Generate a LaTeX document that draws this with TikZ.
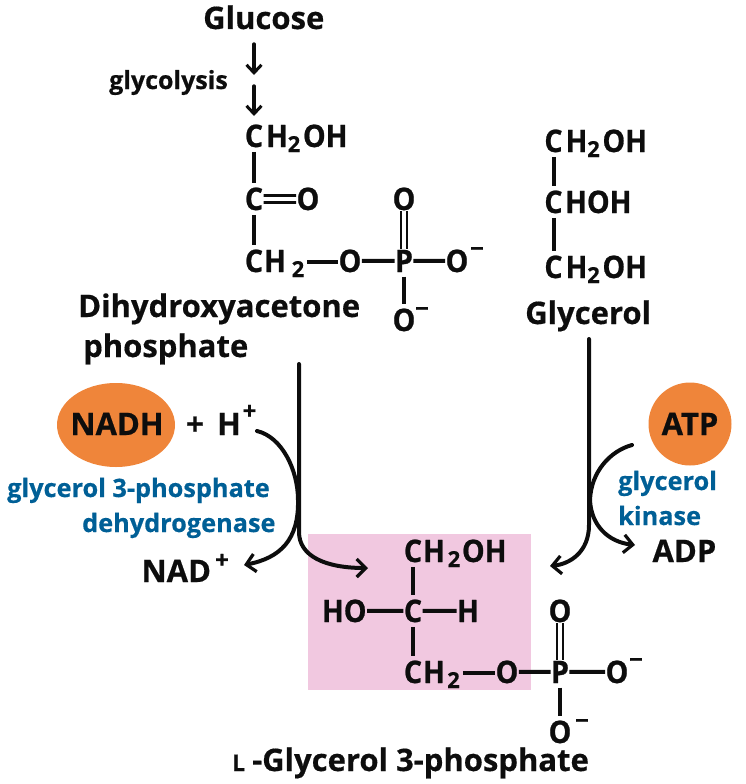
\documentclass[tikz,border=0pt]{standalone}
\usepackage{fontspec}
\setmainfont[BoldFeatures={FakeBold=0.5}]{Open Sans}
\newfontfamily\atomfont[FakeStretch=0.92,BoldFeatures={FakeBold=0.8}]{Open Sans}
\usetikzlibrary{arrows.meta}
\definecolor{cofactor}{HTML}{EF853A}
\definecolor{enzyme}{HTML}{005F96}
\definecolor{product}{HTML}{F1C8E0}
\tikzset{
  x=1pt,y=-1pt,
  atom/.style={inner sep=0pt,outer sep=0.5pt,anchor=base,font=\atomfont\bfseries\fontsize{31}{32}\selectfont,text=black!95},
  big/.style={inner sep=0pt,outer sep=0.5pt,anchor=base,font=\bfseries\fontsize{31}{32}\selectfont,text=black!95},
  subs/.style={inner sep=0pt,anchor=base,font=\bfseries\fontsize{22}{24}\selectfont,text=black!95},
  charge/.style={inner sep=0pt,anchor=center,font=\bfseries\fontsize{24}{26}\selectfont,text=black!95},
  cname/.style={inner sep=0pt,anchor=base west,font=\bfseries\fontsize{31}{32}\selectfont,text=black!95},
  enz/.style={inner sep=0pt,anchor=base west,font=\bfseries\fontsize{25.3}{28}\selectfont,text=enzyme},
  bond/.style={line width=4pt,draw=black!95},
  vbond/.style={bond,shorten <=4pt,shorten >=4pt},
  dbl/.style={line width=2.8pt,draw=black!95},
  flow/.style={line width=4pt,draw=black!95,line cap=round,-{Straight Barb[length=9pt,width=18pt,line width=3.2pt]}},
  small flow/.style={line width=3.4pt,line cap=round,draw=black!95,-{Straight Barb[length=8pt,width=15pt,line width=3pt]}},
}
\begin{document}
\begin{tikzpicture}
\useasboundingbox (0,0) rectangle (745,784);
\fill[product] (308,534) rectangle (531,690);

% cofactors
\fill[cofactor] (116,425) ellipse [x radius=59,y radius=42];
\fill[cofactor] (690,424) circle [radius=41.5];

% dihydroxyacetone phosphate
\node[atom] (a1) at (254,147) {C};
\node[atom] (a1r) at (277,147) {H};
\node[subs] (a1s) at (294,152) {2};
\node[atom,anchor=base east] (a1o) at (348,147) {OH};
\node[atom] (a2) at (254,210) {C};
\node[atom] (a2o) at (308,210) {O};
\node[atom] (a3) at (254,272) {C};
\node[atom] (a3h) at (275,272) {H};
\node[subs] (a3s) at (298,277) {2};
\node[atom] (a4) at (350,272) {O};
\node[atom] (a5) at (404,272) {P};
\node[atom] (a6) at (457,272) {O};
\node[charge] at (477,252) {−};
\node[atom] (a7) at (404,210) {O};
\node[atom] (a8) at (404,331) {O};
\node[charge] at (422,312) {−};
\draw[vbond] (a1) -- (a2);
\draw[vbond] (a2) -- (a3);
\draw[dbl] ([yshift=-3.5pt]a2.east) -- ([yshift=-3.5pt]a2o.west);
\draw[dbl] ([yshift=3.5pt]a2.east) -- ([yshift=3.5pt]a2o.west);
\draw[bond] (a3s.east) ++(3,-7.5) coordinate (a3b) -- (a3b -| a4.west);
\draw[bond] (a4) -- (a5);
\draw[bond] (a5) -- (a6);
\draw[dbl] ([xshift=-3pt]a7.south) -- ([xshift=-3pt]a5.north);
\draw[dbl] ([xshift=3pt]a7.south) -- ([xshift=3pt]a5.north);
\draw[vbond] (a5) -- (a8);
\node[cname] (dhap) at (78,317) {Dihydroxyacetone};
\node[cname] (dhap2) at (83,357) {phosphate};

% route from glucose
\node[cname] (glucose) at (203,29) {Glucose};
\node[inner sep=0pt,anchor=base west,font=\bfseries\fontsize{25}{26}\selectfont,text=black!95] (glycolysis) at (109,89) {glycolysis};
\coordinate (g1) at (254,44);
\coordinate (g2) at (254,75);
\coordinate (g3) at (254,86);
\coordinate (g4) at (254,116);
\draw[small flow] (g1) -- (g2);
\draw[small flow] (g3) -- (g4);

% glycerol
\node[atom] (b1) at (553.5,152) {C};
\node[atom] (b1r) at (576.5,152) {H};
\node[subs] (b1s) at (593.5,157) {2};
\node[atom,anchor=base east] (b1o) at (647.5,152) {OH};
\node[atom] (b2) at (553.5,213) {C};
\node[atom,anchor=base east] (b2r) at (632,213) {HOH};
\node[atom] (b3) at (553.5,278) {C};
\node[atom] (b3r) at (576.5,278) {H};
\node[subs] (b3s) at (593.5,283) {2};
\node[atom,anchor=base east] (b3o) at (647.5,278) {OH};
\draw[vbond] (b1) -- (b2);
\draw[vbond] (b2) -- (b3);
\node[cname] (glycerol) at (525,324) {Glycerol};

% cofactor and enzyme labels
\node[big] (nadh) at (117,435) {NADH};
\node[big] (hplus) at (195,435) {+};
\node[big] (hatom) at (229,435) {H};
\node[charge] (hsup) at (249.5,412) {+};
\node[enz] (gpd1) at (7,497) {glycerol 3-phosphate};
\node[enz] (gpd2) at (82,532) {dehydrogenase};
\node[big,anchor=base west] (nad) at (141,582) {NAD};
\node[charge] (nadsup) at (222,561) {+};
\node[big] (atp) at (690,435) {ATP};
\node[enz] (gk1) at (618,490) {glycerol};
\node[enz] (gk2) at (618,525) {kinase};
\node[big,anchor=base west] (adp) at (652,562) {ADP};

% reaction arrows
\coordinate (ds) at (299,364);
\coordinate (dt) at (368,568);
\coordinate (ns) at (257,431);
\coordinate (nm) at (298,500);
\coordinate (nt) at (244,565);
\coordinate (gs) at (589,339);
\coordinate (gt) at (550,566);
\coordinate (as) at (632,445);
\coordinate (am) at (590,500);
\coordinate (ae) at (635,545);
\draw[flow] (ds) -- (299,532) .. controls (299,556) and (325,568) .. (dt);
\draw[flow] (ns) .. controls (282,437) and (298,470) .. (nm) .. controls (299,540) and (280,558) .. (nt);
\draw[flow] (gs) -- (589,525) .. controls (589,552) and (570,564) .. (gt);
\draw[flow] (as) .. controls (610,451) and (591,472) .. (am) .. controls (591,525) and (608,542) .. (ae);

% L-glycerol 3-phosphate
\node[atom] (c1) at (413,562) {C};
\node[atom] (c1r) at (434,562) {H};
\node[subs] (c1s) at (454,567) {2};
\node[atom,anchor=base east] (c1o) at (507,562) {OH};
\node[atom] (c2) at (413,622) {C};
\node[atom,anchor=base east] (ho) at (367,622) {HO};
\node[atom] (ch) at (468,622) {H};
\node[atom] (c3) at (413,683) {C};
\node[atom] (c3h) at (434,683) {H};
\node[subs] (c3s) at (453.5,688) {2};
\node[atom] (c4) at (507,683) {O};
\node[atom] (c5) at (560,683) {P};
\node[atom] (c6) at (617,683) {O};
\node[charge] at (636,663) {−};
\node[atom] (c7) at (560,622) {O};
\node[atom] (c8) at (560,743) {O};
\node[charge] at (582,724) {−};
\draw[vbond] (c1) -- (c2);
\draw[vbond] (c2) -- (c3);
\draw[bond] (ho) -- (c2);
\draw[bond] (c2) -- (ch);
\draw[bond] (c3s.east) ++(3,-7.5) coordinate (c3b) -- (c3b -| c4.west);
\draw[bond] (c4) -- (c5);
\draw[bond] (c5) -- (c6);
\draw[dbl] ([xshift=-3pt]c7.south) -- ([xshift=-3pt]c5.north);
\draw[dbl] ([xshift=3pt]c7.south) -- ([xshift=3pt]c5.north);
\draw[vbond] (c5) -- (c8);
\node[inner sep=0pt,anchor=base west,font=\bfseries\fontsize{23}{24}\selectfont,text=black!95] (lform) at (232,771) {L};
\node[cname] (title) at (252,771) {-Glycerol 3-phosphate};
\end{tikzpicture}
\end{document}
